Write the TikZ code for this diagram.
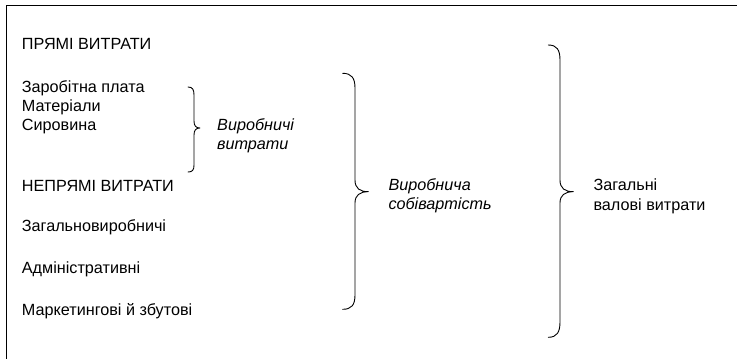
\documentclass[tikz,border=0pt]{standalone}
\usepackage{fontspec}
\setmainfont{Liberation Sans}
\begin{document}
\begin{tikzpicture}[x=1pt,y=-1pt,
  lbl/.style={anchor=base west,inner sep=0pt,font=\fontsize{16.2}{19}\selectfont},
  ilbl/.style={lbl,font=\fontsize{16.2}{19}\selectfont\itshape},
  bracel/.style={line width=0.9pt,line cap=round,line join=round},
  framel/.style={line width=1.3pt}]
\useasboundingbox (0,0) rectangle (737,359);
% frame (top and left only)
\coordinate (fa) at (6.5,359);
\coordinate (fb) at (6.5,5.5);
\coordinate (fc) at (737,5.5);
\draw[framel] (fa) -- (fb) -- (fc);
% left texts
\node[lbl] (p) at (21.7,49) {ПРЯМІ ВИТРАТИ};
\node[lbl] (z) at (21.7,92.5) {Заробітна плата};
\node[lbl] (m) at (21.7,111.3) {Матеріали};
\node[lbl] (s) at (21.7,130.5) {Сировина};
\node[lbl] (n) at (21.7,191.7) {НЕПРЯМІ ВИТРАТИ};
\node[lbl] (zv) at (21.7,231.7) {Загальновиробничі};
\node[lbl] (a) at (21.7,273) {Адміністративні};
\node[lbl] (mk) at (21.7,315) {Маркетингові й збутові};
% brace 1
\draw[bracel] (188,87) .. controls (192.5,87) and (194,89.5) .. (194,95) -- (194,121) .. controls (194,126) and (196,128) .. (200,128) .. controls (196,128) and (194,130) .. (194,135) -- (194,165) .. controls (194,170) and (192.5,172) .. (188,172);
\node[ilbl] (vv1) at (217,130.5) {Виробничі};
\node[ilbl] (vv2) at (217,149.5) {витрати};
% brace 2
\draw[bracel] (342.7,73.3) .. controls (351.5,73.3) and (355,78) .. (355,88) -- (355,180) .. controls (355,188.5) and (360,191.7) .. (368.3,191.7) .. controls (360,191.7) and (355,195) .. (355,203) -- (355,295) .. controls (355,305) and (351.5,309.3) .. (342.7,309.3);
\node[ilbl] (vs1) at (388.3,190.3) {Виробнича};
\node[ilbl] (vs2) at (388.3,209.3) {собівартість};
% brace 3
\draw[bracel] (548.3,45) .. controls (557,45) and (560,50) .. (560,60) -- (560,180) .. controls (560,188.5) and (565,191.7) .. (573.3,191.7) .. controls (565,191.7) and (560,195) .. (560,203) -- (560,322) .. controls (560,332) and (557,337.3) .. (548.3,337.3);
\node[lbl] (zg1) at (593.3,190.3) {Загальні};
\node[lbl] (zg2) at (593.3,210.3) {валові витрати};
\end{tikzpicture}
\end{document}
